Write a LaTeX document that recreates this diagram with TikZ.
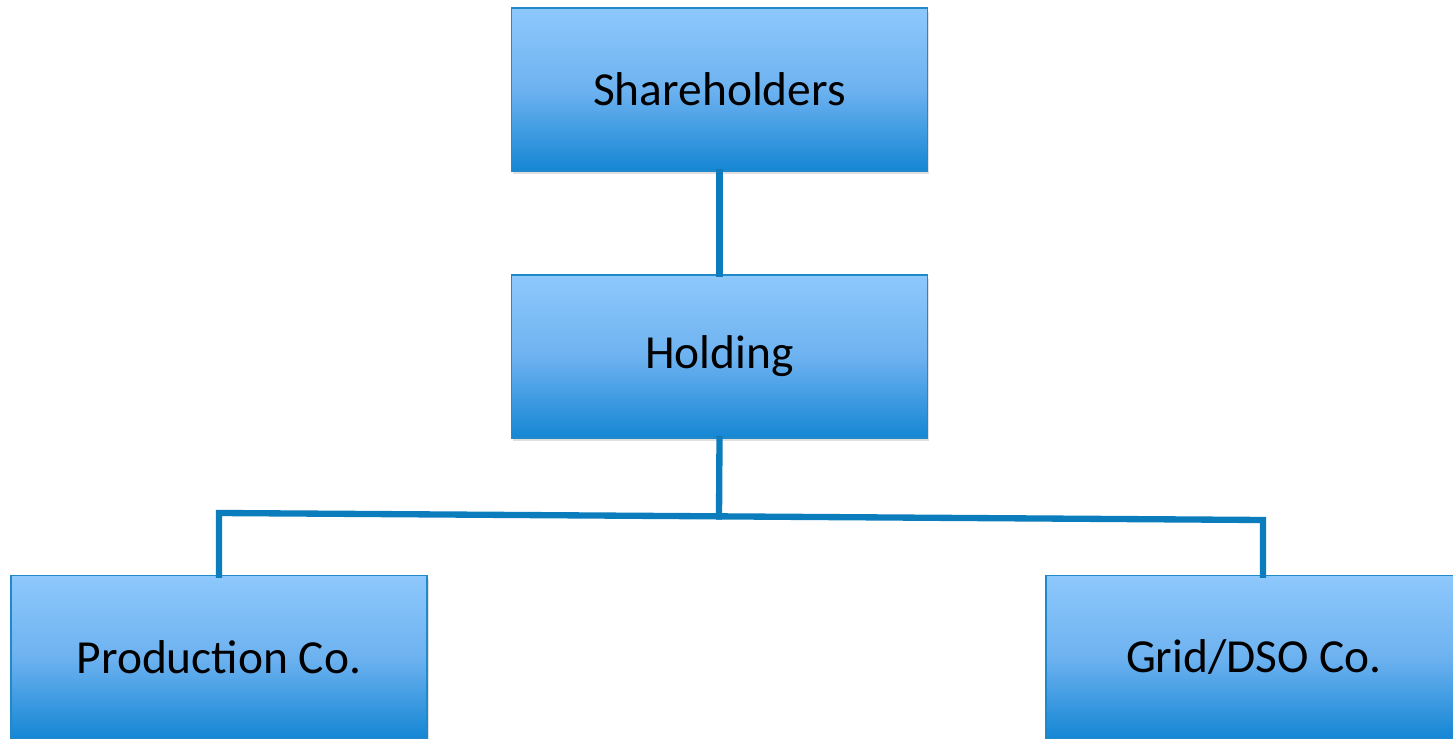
\documentclass[tikz,border=0pt]{standalone}
\usepackage{fontspec}
\setmainfont{Carlito}
\usepackage{xcolor}
\usepackage{tikz}
\usetikzlibrary{shadows}

\definecolor{boxtop}{HTML}{8EC8FC}
\definecolor{boxmid}{HTML}{6DB2F0}
\definecolor{boxbot}{HTML}{1586D4}
\definecolor{boxline}{HTML}{2089CA}
\definecolor{wire}{HTML}{0B7DBD}

\tikzset{
  org/.style={draw=boxline, line width=1pt, rectangle,
    top color=boxtop, bottom color=boxbot, middle color=boxmid,
    minimum width=8.32cm, minimum height=3.26cm, inner sep=0pt,
    font=\fontsize{27}{32}\selectfont,
    drop shadow={opacity=0.25, shadow xshift=1pt, shadow yshift=-2pt}},
  link/.style={draw=wire, line width=3.6pt, line cap=rect}
}

\begin{document}
\begin{tikzpicture}[x=0.02cm, y=-0.02cm]
    \useasboundingbox (0,0) rectangle (1453,739);
    \node[org] (sh) at (719.5,89.5) {Shareholders};
    \node[org] (hold) at (719.5,356.5) {Holding};
    \node[org] (prod) at (219,657) {Production Co.};
    \node[org] (grid) at (1254,657) {Grid/DSO Co.};
    \coordinate (mid) at (719,516.5);
    \coordinate (bl) at (219,513);
    \coordinate (br) at (1263,520);
    \draw[link] (sh) -- (hold);
    \draw[link] (hold.south) -- (mid);
    \draw[link] (prod.north) -- (bl) -- (br) -- (br |- grid.north);
  \end{tikzpicture}
\end{document}
